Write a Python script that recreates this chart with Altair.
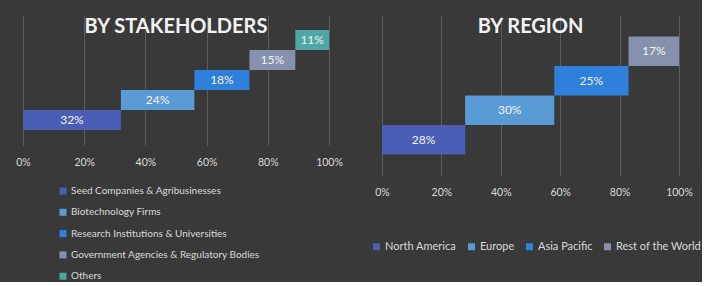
import altair as alt
import pandas as pd

# ---- data ----
stake_cats = [
    "Seed Companies & Agribusinesses",
    "Biotechnology Firms",
    "Research Institutions & Universities",
    "Government Agencies & Regulatory Bodies",
    "Others",
]
stake_vals = [32, 24, 18, 15, 11]
stake_colors = ["#4B5EB5", "#5B9BD5", "#2E80DA", "#8591AD", "#4FA6A6"]

region_cats = ["North America", "Europe", "Asia Pacific", "Rest of the World"]
region_vals = [28, 30, 25, 17]
region_colors = ["#4B5EB5", "#5B9BD5", "#2E80DA", "#8591AD"]

tick_vals = [0, 20, 40, 60, 80, 100]

FONT = "Lato"
TXT = "#f2f2f2"
LBL = "#d9d9d9"
BG = "#393939"


def panel(cats, vals, colors, title, width, height, pad_outer, label_pad, legend):
    df = pd.DataFrame({"cat": cats, "val": vals, "order": list(range(len(cats)))})
    base = alt.Chart(df).transform_window(
        cum="sum(val)", sort=[alt.SortField("order")], frame=[None, 0]
    ).transform_calculate(
        start="datum.cum - datum.val",
        mid="datum.cum - datum.val / 2",
        label="datum.val + '%'",
    )
    y = alt.Y(
        "cat:N",
        sort=list(reversed(cats)),
        scale=alt.Scale(paddingInner=0, paddingOuter=pad_outer),
        axis=None,
    )
    bars = base.mark_bar().encode(
        x=alt.X(
            "start:Q",
            scale=alt.Scale(domain=[0, 100], nice=False),
            axis=alt.Axis(
                values=tick_vals,
                labelExpr="datum.value + '%'",
                labelFlush=False,
                grid=True,
                gridColor="#5c5c5c",
                gridWidth=1,
                domain=False,
                ticks=False,
                tickSize=0,
                labelPadding=label_pad,
                labelColor=LBL,
                labelFont=FONT,
                labelFontSize=10.5,
                title=None,
            ),
        ),
        x2="cum:Q",
        y=y,
        color=alt.Color("cat:N", scale=alt.Scale(domain=cats, range=colors), legend=legend),
    )
    text = base.mark_text(font=FONT, fontSize=12, color=TXT).encode(
        x="mid:Q", y=y, text="label:N"
    )
    return alt.layer(bars, text).properties(
        width=width,
        height=height,
        title=alt.Title(
            title,
            offset=-22,
            fontSize=20,
            font=FONT,
            fontWeight="bold",
            color=TXT,
            anchor="middle",
        ),
    )


left_legend = alt.Legend(
    orient="none",
    legendX=35,
    legendY=171,
    direction="vertical",
    title=None,
    symbolType="square",
    symbolSize=49,
    symbolStrokeWidth=0,
    labelFont=FONT,
    labelFontSize=10,
    labelColor=LBL,
    rowPadding=11.3,
    labelOffset=3,
    labelLimit=400,
)
right_legend = alt.Legend(
    orient="none",
    legendX=-11,
    legendY=226,
    direction="horizontal",
    title=None,
    symbolType="square",
    symbolSize=49,
    symbolStrokeWidth=0,
    labelFont=FONT,
    labelFontSize=11,
    labelColor=LBL,
    columnPadding=9,
    labelOffset=3,
    labelLimit=400,
)

left = panel(stake_cats, stake_vals, stake_colors, "BY STAKEHOLDERS", 306, 130, 0.75, 12, left_legend)
right = panel(region_cats, region_vals, region_colors, "BY REGION", 297, 161, 0.73, 11.5, right_legend)

chart = (
    alt.hconcat(left, right, spacing=53, bounds="flush")
    .properties(padding={"left": 15, "top": 15, "right": 0, "bottom": 0}, background=BG)
    .configure_view(stroke=None)
    .resolve_scale(color="independent")
)

chart.save("out.html", embed_options={"renderer": "svg", "actions": False})
